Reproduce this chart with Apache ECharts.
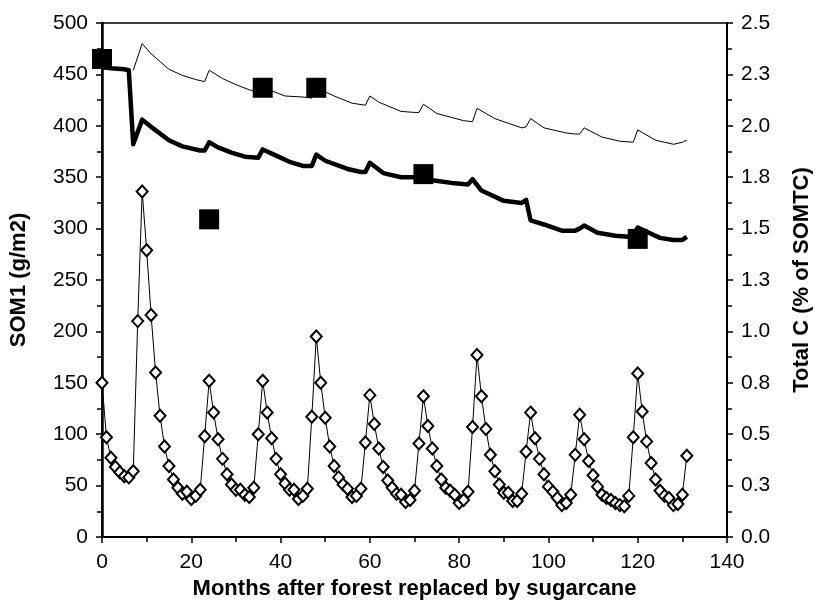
<!DOCTYPE html>
<html>
<head>
<meta charset="utf-8">
<script src="https://cdn.jsdelivr.net/npm/echarts@6/dist/echarts.min.js"></script>
<style>
html,body{margin:0;padding:0;background:#fff;}
#chart{width:821px;height:612px;}
</style>
</head>
<body>
<div id="chart"></div>
<script>
// SOM1 monthly values (months 0..131), diamonds
const som1Values = [
150, 97, 77, 68, 63, 59, 58, 64, 210, 336,
279, 216, 160, 118, 88, 69, 56, 48, 42, 44,
37, 40, 46, 98, 152, 121, 95, 76, 61, 51,
46, 46, 41, 39, 48, 100, 152, 121, 96, 76,
61, 52, 46, 46, 37, 40, 47, 117, 195, 150,
116, 88, 69, 58, 51, 47, 39, 40, 47, 92,
138, 110, 86, 68, 55, 48, 42, 41, 34, 36,
45, 91, 137, 108, 86, 69, 56, 48, 45, 41,
33, 36, 44, 107, 177, 137, 105, 80, 64, 51,
43, 43, 35, 35, 42, 83, 121, 96, 76, 61,
49, 44, 38, 31, 33, 41, 80, 119, 95, 74,
60, 49, 41, 38, 36, 33, 31, 30, 40, 97,
159, 122, 93, 72, 56, 45, 40, 38, 31, 32,
41, 79
];

// Thick line (simulated total C), read at these months
const thickMonths = [0, 2, 5, 6, 7, 9, 11, 15, 18, 22, 23, 24, 26, 29, 32, 35, 36, 39, 42, 45, 47, 48, 50, 55, 58, 59, 60, 63, 67, 70, 74, 79, 82, 83, 85, 90, 94, 95, 96, 99, 103, 106, 107, 108, 111, 115, 118, 119, 120, 123, 125, 128, 130, 131];
const thickValues = [457, 456, 455, 454, 382, 406, 399, 386, 380, 376, 376, 384, 379, 374, 370, 369, 377, 371, 365, 361, 361, 372, 366, 358, 355, 355, 364, 354, 350, 350, 347, 344, 343, 348, 337, 327, 325, 328, 308, 304, 298, 298, 300, 303, 296, 293, 292, 293, 301, 295, 291, 289, 289, 292];

// Thin line, read at these months
const thinMonths = [7, 9, 11, 15, 18, 21, 23, 24, 27, 30, 33, 35, 36, 38, 41, 45, 47, 48, 50, 52, 56, 59, 60, 62, 67, 70, 71, 72, 75, 81, 83, 84, 88, 94, 95, 96, 99, 104, 106, 107, 108, 112, 116, 119, 120, 124, 128, 130, 131];
const thinValues = [454, 480, 470, 455, 449, 445, 443, 454, 446, 440, 435, 433, 437, 434, 429, 428, 427, 436, 433, 429, 422, 420, 429, 423, 414, 413, 413, 421, 412, 405, 404, 417, 407, 398, 399, 407, 398, 393, 392, 392, 398, 389, 385, 384, 396, 386, 382, 384, 386];

// Observed values (squares)
const obsMonths = [0, 24, 36, 48, 72, 120];
const obsValues = [465, 309, 437, 437, 353, 290];

// Right axis tick labels
const rightTickLabels = ['0.0','0.3','0.5','0.8','1.0','1.3','1.5','1.8','2.0','2.3','2.5'];

const pair = (xs, ys) => xs.map((x, i) => [x, ys[i]]);
const som1Data = som1Values.map((v, i) => [i, v]);

const FONT = "'Liberation Sans', Arial, sans-serif";
const chart = echarts.init(document.getElementById('chart'), null, {renderer: 'canvas'});
chart.setOption({
  animation: false,
  backgroundColor: '#fff',
  grid: {left: 100, right: 82, top: 23, bottom: 75, show: true, borderColor: '#000', borderWidth: 1.5, backgroundColor: 'transparent'},
  xAxis: {
    type: 'value', min: 0, max: 140, interval: 20,
    name: 'Months after forest replaced by sugarcane',
    nameLocation: 'middle', nameGap: 34,
    nameTextStyle: {fontFamily: FONT, fontWeight: 'bold', fontSize: 22, color: '#000'},
    axisLine: {lineStyle: {color: '#000', width: 2}},
    axisTick: {show: true, inside: false, length: 6, lineStyle: {color: '#000', width: 1.5}},
    minorTick: {show: true, splitNumber: 2, length: 5, lineStyle: {color: '#000', width: 1.5}},
    splitLine: {show: false},
    axisLabel: {fontFamily: FONT, fontSize: 21, color: '#000', margin: 15}
  },
  yAxis: [{
    type: 'value', min: 0, max: 500, interval: 50, position: 'left',
    name: 'SOM1 (g/m2)', nameLocation: 'middle', nameGap: 72, nameRotate: 90,
    nameTextStyle: {fontFamily: FONT, fontWeight: 'bold', fontSize: 22, color: '#000'},
    axisLine: {show: true, lineStyle: {color: '#000', width: 2.5}},
    axisTick: {show: true, length: 6, lineStyle: {color: '#000', width: 1.5}},
    minorTick: {show: true, splitNumber: 2, length: 5, lineStyle: {color: '#000', width: 1.5}},
    splitLine: {show: false},
    axisLabel: {fontFamily: FONT, fontSize: 21, color: '#000', margin: 14}
  }, {
    type: 'value', min: 0, max: 2.5, interval: 0.25, position: 'right',
    name: 'Total C (% of SOMTC)', nameLocation: 'middle', nameGap: 64, nameRotate: 90,
    nameTextStyle: {fontFamily: FONT, fontWeight: 'bold', fontSize: 22, color: '#000'},
    axisLine: {show: true, lineStyle: {color: '#000', width: 2}},
    axisTick: {show: true, length: 6, lineStyle: {color: '#000', width: 1.5}},
    minorTick: {show: true, splitNumber: 2, length: 5, lineStyle: {color: '#000', width: 1.5}},
    splitLine: {show: false},
    axisLabel: {fontFamily: FONT, fontSize: 21, color: '#000', margin: 14,
      formatter: v => rightTickLabels[Math.round(v / 0.25)]}
  }],
  series: [{
    type: 'line', data: pair(thinMonths, thinValues), showSymbol: false, z: 2,
    lineStyle: {color: '#000', width: 1}
  }, {
    type: 'line', data: pair(thickMonths, thickValues), showSymbol: false, z: 3,
    lineStyle: {color: '#000', width: 4.5, join: 'round'}
  }, {
    type: 'line', data: som1Data, z: 4,
    symbol: 'diamond', symbolSize: [11, 12], showAllSymbol: true,
    lineStyle: {color: '#000', width: 1},
    itemStyle: {color: '#fff', borderColor: '#000', borderWidth: 2}
  }, {
    type: 'scatter', data: pair(obsMonths, obsValues), z: 5,
    symbol: 'rect', symbolSize: 20,
    itemStyle: {color: '#000', opacity: 1}
  }]
});
</script>
</body>
</html>
